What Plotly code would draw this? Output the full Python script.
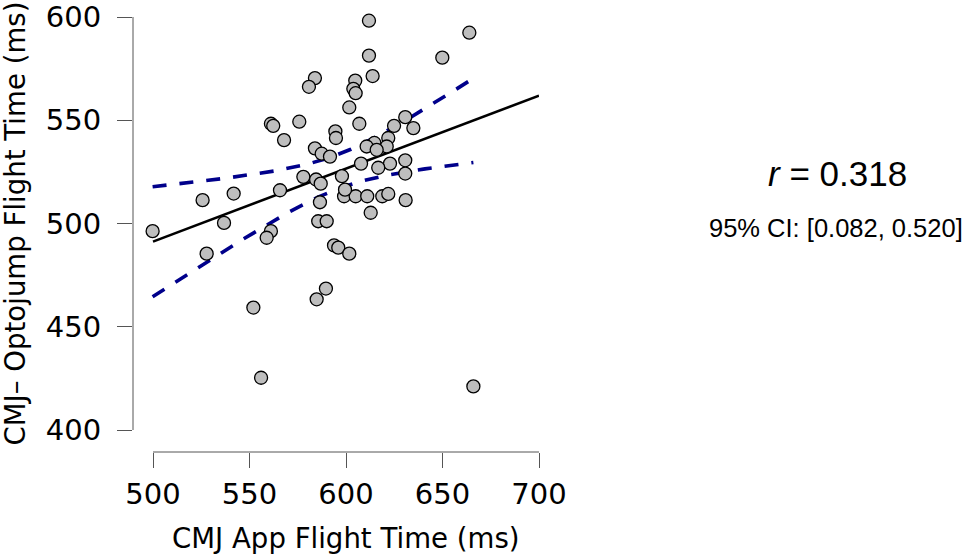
import numpy as np
import plotly.graph_objects as go

# CMJ App flight time (ms) vs CMJ Optojump flight time (ms)
app_ms = [583.9, 580.8, 561.1, 562.3, 575.8, 567.9, 583.9, 587.4, 591.7, 611.9,
          663.9, 611.9, 649.9, 613.8, 604.8, 603.8, 605.0, 601.7, 606.9, 630.7,
          624.9, 634.9, 594.5, 594.8, 621.9, 614.7, 610.7, 621.1, 615.9, 607.8,
          622.8, 630.7, 616.7, 597.9, 630.7, 599.0, 605.0, 611.0, 618.8, 621.9,
          630.9, 612.8, 593.8, 596.0, 601.7, 577.9, 584.5, 586.9, 525.7, 541.8,
          565.8, 499.8, 536.8, 586.5, 585.6, 590.0, 561.1, 558.9, 527.8, 589.6,
          584.8, 552.0, 556.0, 666.0, 599.5]
opto_ms = [570.4, 566.2, 548.3, 547.3, 549.3, 540.4, 536.4, 533.8, 532.4, 598.2,
           592.4, 581.3, 580.3, 571.4, 569.2, 565.2, 563.1, 556.2, 548.3, 551.5,
           547.3, 546.2, 544.6, 541.4, 541.4, 539.0, 537.3, 537.3, 535.7, 529.0,
           529.0, 530.6, 527.0, 522.9, 524.2, 513.2, 513.2, 513.2, 513.2, 514.3,
           511.3, 505.2, 489.4, 488.3, 485.4, 522.6, 521.3, 519.3, 511.3, 514.5,
           516.1, 496.3, 500.3, 510.3, 501.1, 501.1, 496.3, 493.1, 485.4, 468.5,
           463.3, 459.3, 425.3, 421.1, 516.4]

x_ticks = [500, 550, 600, 650, 700]
y_ticks = [400, 450, 500, 550, 600]
r_label = "<i>r</i> = 0.318"
ci_label = "95% CI: [0.082, 0.520]"
x_title = "CMJ App Flight Time (ms)"
y_title = "CMJ– Optojump Flight Time (ms)"

x = np.array(app_ms)
y = np.array(opto_ms)
n = len(x)
b1, b0 = np.polyfit(x, y, 1)
resid = y - (b0 + b1 * x)
s = np.sqrt(np.sum(resid ** 2) / (n - 2))
sxx = np.sum((x - x.mean()) ** 2)
t_crit = 1.998  # t(0.975, df=63)

line_x = np.array([x_ticks[0], x_ticks[-1]], dtype=float)
line_y = b0 + b1 * line_x
band_x = np.linspace(x.min(), x.max(), 200)
band_fit = b0 + b1 * band_x
hw = t_crit * s * np.sqrt(1.0 / n + (band_x - x.mean()) ** 2 / sxx)

fig = go.Figure()
fig.add_trace(go.Scatter(x=band_x, y=band_fit + hw, mode="lines",
                         line=dict(color="#00008B", width=3.6, dash="14px,13px"),
                         hoverinfo="skip", cliponaxis=False))
fig.add_trace(go.Scatter(x=band_x, y=band_fit - hw, mode="lines",
                         line=dict(color="#00008B", width=3.6, dash="14px,13px"),
                         hoverinfo="skip", cliponaxis=False))
fig.add_trace(go.Scatter(x=line_x, y=line_y, mode="lines",
                         line=dict(color="black", width=2.6),
                         hoverinfo="skip", cliponaxis=False))
fig.add_trace(go.Scatter(x=app_ms, y=opto_ms, mode="markers",
                         marker=dict(size=13, color="#BEBEBE",
                                     line=dict(color="black", width=1.3)),
                         cliponaxis=False))

W, H = 967, 554
ml, mr, mt, mb = 133, 428, 10, 102
pw, ph = W - ml - mr, H - mt - mb
x_lo = 500 - (153 - ml) / 1.93
y_lo = 400 - (452 - 430) / 2.065
y_hi = 600 + (17 - mt) / 2.065

tick_font = dict(family="DejaVu Sans", size=29, color="black")
title_font = dict(family="DejaVu Sans", size=27.6, color="black")
fig.update_layout(
    width=W, height=H, showlegend=False,
    margin=dict(l=ml, r=mr, t=mt, b=mb, pad=0, autoexpand=False),
    plot_bgcolor="white", paper_bgcolor="white",
    xaxis=dict(range=[x_lo, 700], tickvals=x_ticks, ticks="outside", ticklen=15,
               tickcolor="#555555", tickwidth=1, showgrid=False, zeroline=False,
               showline=False, tickfont=tick_font, ticklabelstandoff=1,
               automargin=False),
    yaxis=dict(range=[y_lo, y_hi], tickvals=y_ticks, ticks="outside", ticklen=15,
               tickcolor="#555555", tickwidth=1, showgrid=False, zeroline=False,
               showline=False, tickfont=tick_font, ticklabelstandoff=10,
               automargin=False),
    shapes=[
        dict(type="line", xref="paper", yref="y", x0=0, x1=0, y0=400, y1=600,
             line=dict(color="#555555", width=1)),
        dict(type="line", xref="x", yref="paper", x0=500, x1=700, y0=0, y1=0,
             line=dict(color="#555555", width=1)),
    ],
    annotations=[
        dict(text=x_title, xref="x", yref="paper", x=600, y=(452 - 538.5) / ph,
             showarrow=False, font=title_font, xanchor="center", yanchor="middle"),
        dict(text=y_title, xref="paper", yref="y", x=(15 - ml) / pw, y=500,
             showarrow=False, font=title_font, textangle=-90,
             xanchor="center", yanchor="middle"),
        dict(text=r_label, xref="paper", yref="paper", x=(837.5 - ml) / pw,
             y=(452 - 173) / ph, showarrow=False,
             font=dict(family="Liberation Sans", size=35, color="black"),
             xanchor="center", yanchor="middle"),
        dict(text=ci_label, xref="paper", yref="paper", x=(836 - ml) / pw,
             y=(452 - 228) / ph, showarrow=False,
             font=dict(family="Liberation Sans", size=25.5, color="black"),
             xanchor="center", yanchor="middle"),
    ],
)

fig.write_html("out.html", config={"displayModeBar": False},
               post_script="document.body.style.margin='0';"
                           "document.body.style.overflow='hidden';")
